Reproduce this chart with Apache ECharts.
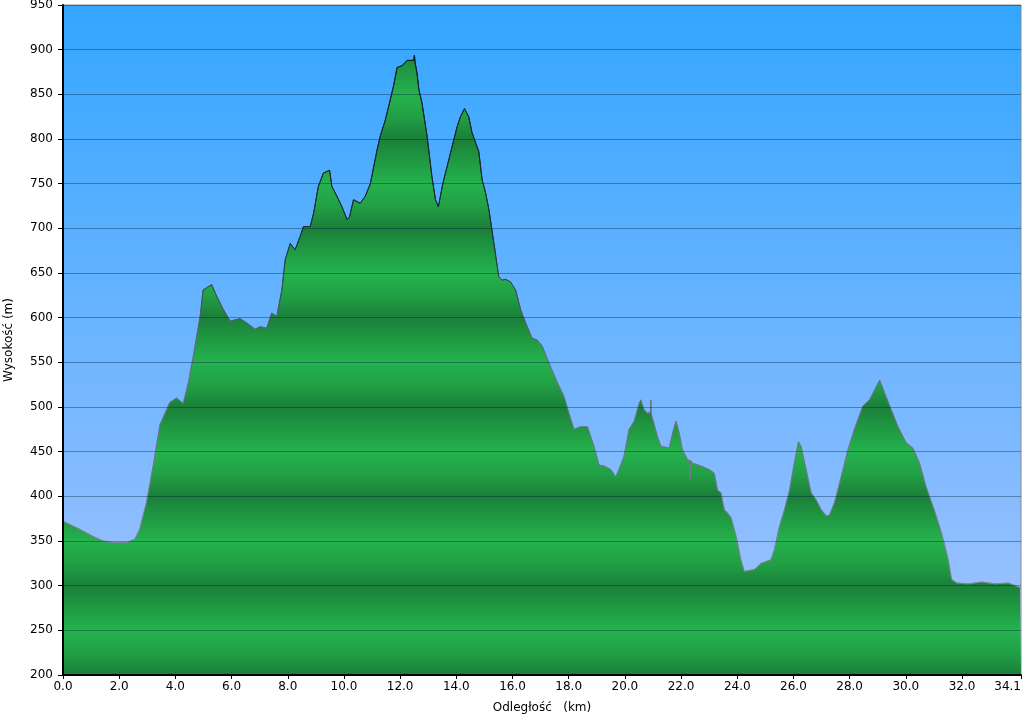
<!DOCTYPE html>
<html>
<head>
<meta charset="utf-8">
<script src="https://cdn.jsdelivr.net/npm/echarts@6/dist/echarts.min.js"></script>
<style>html,body{margin:0;padding:0;background:#fff}#c{width:1024px;height:719px}</style>
</head>
<body>
<div id="c"></div>
<script>
const distKm = [0.0,0.60,1.07,1.43,1.78,2.26,2.56,2.73,2.97,3.21,3.45,3.80,4.04,4.28,4.46,4.64,4.88,4.99,5.29,5.47,5.71,5.95,6.30,6.54,6.84,7.02,7.25,7.43,7.61,7.79,7.91,8.09,8.26,8.44,8.56,8.80,8.92,9.09,9.27,9.49,9.57,9.75,9.93,10.11,10.20,10.34,10.58,10.76,10.94,11.18,11.29,11.47,11.65,11.77,11.89,12.07,12.25,12.48,12.51,12.53,12.60,12.67,12.78,12.96,13.14,13.26,13.36,13.50,13.55,13.79,14.03,14.15,14.29,14.44,14.56,14.80,14.92,15.04,15.16,15.34,15.51,15.63,15.75,15.93,16.11,16.29,16.47,16.70,16.88,17.06,17.30,17.60,17.83,18.01,18.19,18.43,18.67,18.90,19.08,19.26,19.50,19.67,19.79,19.97,20.15,20.33,20.51,20.57,20.68,20.81,20.91,20.92,20.94,20.98,21.16,21.28,21.58,21.70,21.82,21.93,22.05,22.23,22.31,22.32,22.34,22.41,22.71,23.00,23.18,23.30,23.42,23.54,23.66,23.78,23.96,24.13,24.25,24.61,24.85,25.20,25.32,25.50,25.68,25.86,26.03,26.18,26.27,26.45,26.63,26.81,26.99,27.17,27.28,27.46,27.70,27.94,28.17,28.47,28.71,28.89,29.07,29.24,29.48,29.72,30.01,30.25,30.49,30.72,31.03,31.27,31.51,31.63,31.81,32.22,32.70,33.17,33.65,34.06,34.1];
const elevM = [372,363,355,350,348,348,352,363,393,434,480,505,510,504,527,557,601,631,637,624,609,596,599,594,587,590,588,605,601,631,665,683,676,691,702,702,717,747,762,765,747,736,724,710,713,732,728,736,750,788,803,821,844,860,880,882,888,888,894,886,874,855,840,803,756,732,724,747,754,784,814,825,834,825,807,786,754,740,721,683,646,642,643,640,631,609,594,577,575,568,549,527,512,493,475,478,478,456,435,434,430,422,430,445,475,484,504,508,497,493,494,508,492,490,467,456,454,471,484,471,452,441,440,419,440,437,434,430,426,407,404,385,381,376,355,329,316,318,325,329,340,366,385,407,437,461,456,430,404,396,385,378,379,393,422,452,475,501,508,519,530,516,497,478,460,454,437,411,383,359,329,307,303,302,304,302,303,298,297];
// Tick labels
const xTickValues = [0,2,4,6,8,10,12,14,16,18,20,22,24,26,28,30,32,34.1];
const yMin = 200, yMax = 950, yStep = 50;
const xMin = 0, xMax = 34.1;

const FONT = 'DejaVu Sans, Verdana, sans-serif';
const chart = echarts.init(document.getElementById('c'), null, {renderer: 'canvas'});
const points = distKm.map((d, i) => [d, elevM[i]]);

const option = {
  animation: false,
  backgroundColor: '#ffffff',
  textStyle: {fontFamily: FONT, color: '#000'},
  grid: {
    left: 63, right: 3, top: 5, bottom: 44,
    outerBoundsMode: 'none',
    containLabel: false,
    show: true,
    borderColor: '#8a8a8a', borderWidth: 1,
    backgroundColor: new echarts.graphic.LinearGradient(0, 0, 0, 1, [
      {offset: 0, color: '#33a6ff'},
      {offset: 1, color: '#a6c4ff'}
    ])
  },
  xAxis: {
    type: 'value', min: xMin, max: xMax,
    z: 10,
    name: 'Odległość   (km)', nameLocation: 'middle', nameGap: 27,
    nameTextStyle: {fontSize: 12, color: '#000', fontFamily: FONT},
    axisLine: {show: true, lineStyle: {color: '#000', width: 2}},
    axisTick: {show: true, length: 4, customValues: xTickValues, lineStyle: {color: '#000', width: 1}},
    axisLabel: {color: '#000', fontSize: 12, margin: 6, customValues: xTickValues,
      showMinLabel: true, showMaxLabel: true, hideOverlap: false, alignMaxLabel: 'right',
      formatter: v => Number(v).toFixed(1)},
    splitLine: {show: false}
  },
  yAxis: {
    type: 'value', min: yMin, max: yMax, interval: yStep,
    z: 10,
    name: 'Wysokość (m)', nameLocation: 'middle', nameGap: 48,
    nameTextStyle: {fontSize: 12, color: '#000', fontFamily: FONT},
    axisLine: {show: true, lineStyle: {color: '#000', width: 2}},
    axisTick: {show: true, length: 5, lineStyle: {color: '#000', width: 1}},
    axisLabel: {color: '#000', fontSize: 12, margin: 10},
    splitLine: {show: true, lineStyle: {color: 'rgba(0,30,60,0.38)', width: 1}}
  },
  series: [{
    type: 'line',
    data: points,
    symbol: 'none',
    smooth: false,
    z: 2,
    lineStyle: {width: 1, color: '#222'},
    areaStyle: {opacity: 1, color: '#22a84a'}
  }]
};
chart.setOption(option);

// Banded green fill and fading outline, positioned through the y axis scale
const py = v => chart.convertToPixel({yAxisIndex: 0}, v);
const yTop = py(yMax), yBot = py(yMin);
const stops = [];
const dark = '#1b7f3a', light = '#25b24d';
for (let v = yMax; v >= yMin; v -= 25) {
  const off = (py(v) - yTop) / (yBot - yTop);
  const r = ((v % 100) + 100) % 100;
  const c = r === 0 ? dark : r === 50 ? light : (r === 25 ? '#21a045' : '#1f9a42');
  stops.push({offset: Math.min(1, Math.max(0, off)), color: c});
}
const lineStops = [
  {offset: 0, color: 'rgba(10,20,30,0.95)'},
  {offset: (py(700) - yTop) / (yBot - yTop), color: 'rgba(25,40,50,0.9)'},
  {offset: (py(560) - yTop) / (yBot - yTop), color: 'rgba(100,110,120,0.85)'},
  {offset: 1, color: 'rgba(130,140,150,0.8)'}
];
chart.setOption({
  series: [{
    lineStyle: {width: 1, color: new echarts.graphic.LinearGradient(0, yTop, 0, yBot, lineStops, true)},
    areaStyle: {opacity: 1, color: new echarts.graphic.LinearGradient(0, yTop, 0, yBot, stops, true)}
  }]
});
</script>
</body>
</html>
